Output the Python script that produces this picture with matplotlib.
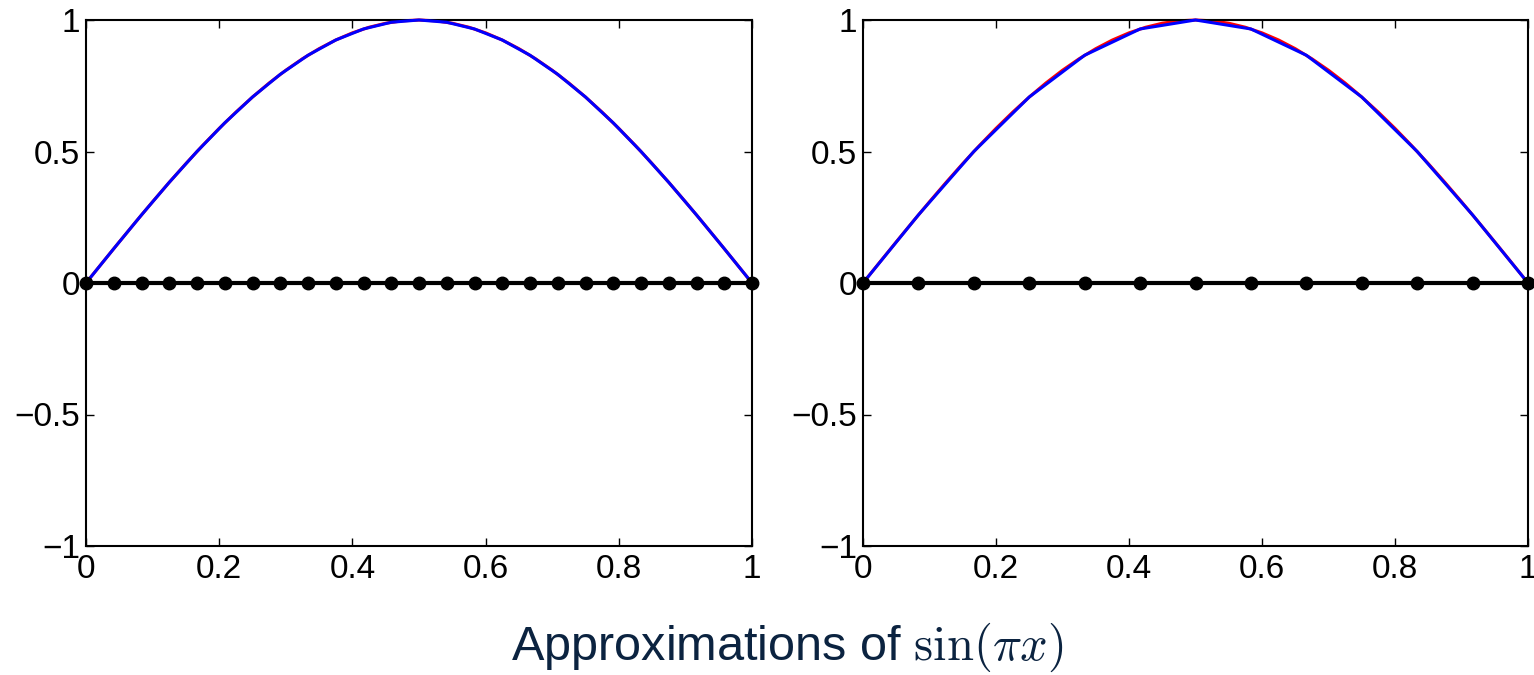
import matplotlib
matplotlib.use("Agg")
import matplotlib.pyplot as plt

plt.rcParams['font.family'] = ['Liberation Sans', 'DejaVu Sans']
plt.rcParams['mathtext.fontset'] = 'cm'

# Left panel: 25 nodes on [0, 1]
x_left = [0, 1/24, 2/24, 3/24, 4/24, 5/24, 6/24, 7/24, 8/24, 9/24, 10/24, 11/24, 12/24,
          13/24, 14/24, 15/24, 16/24, 17/24, 18/24, 19/24, 20/24, 21/24, 22/24, 23/24, 1]
y_left_approx = [0.0, 0.1305, 0.2588, 0.3827, 0.5, 0.6088, 0.7071, 0.7934, 0.866, 0.9239,
                 0.9659, 0.9914, 1.0, 0.9914, 0.9659, 0.9239, 0.866, 0.7934, 0.7071,
                 0.6088, 0.5, 0.3827, 0.2588, 0.1305, 0.0]
y_left_nodes = [0.0] * 25

# Right panel: 13 nodes on [0, 1]
x_right = [0, 1/12, 2/12, 3/12, 4/12, 5/12, 6/12, 7/12, 8/12, 9/12, 10/12, 11/12, 1]
y_right_approx = [0.0, 0.2588, 0.5, 0.7071, 0.866, 0.9659, 1.0, 0.9659, 0.866, 0.7071,
                  0.5, 0.2588, 0.0]
y_right_nodes = [0.0] * 13

# Exact curve sin(pi x), sampled finely
x_exact = [0, 0.025, 0.05, 0.075, 0.1, 0.125, 0.15, 0.175, 0.2, 0.225, 0.25, 0.275, 0.3,
           0.325, 0.35, 0.375, 0.4, 0.425, 0.45, 0.475, 0.5, 0.525, 0.55, 0.575, 0.6,
           0.625, 0.65, 0.675, 0.7, 0.725, 0.75, 0.775, 0.8, 0.825, 0.85, 0.875, 0.9,
           0.925, 0.95, 0.975, 1.0]
y_exact = [0.0, 0.0785, 0.1564, 0.2334, 0.309, 0.3827, 0.454, 0.5225, 0.5878, 0.6494,
           0.7071, 0.7604, 0.809, 0.8526, 0.891, 0.9239, 0.9511, 0.9724, 0.9877, 0.9969,
           1.0, 0.9969, 0.9877, 0.9724, 0.9511, 0.9239, 0.891, 0.8526, 0.809, 0.7604,
           0.7071, 0.6494, 0.5878, 0.5225, 0.454, 0.3827, 0.309, 0.2334, 0.1564, 0.0785, 0.0]

x_ticks = [0, 0.2, 0.4, 0.6, 0.8, 1]
x_ticklabels = ['0', '0.2', '0.4', '0.6', '0.8', '1']
y_ticks = [-1, -0.5, 0, 0.5, 1]
y_ticklabels = ['\u22121', '\u22120.5', '0', '0.5', '1']

W, H = 1534, 675
fig = plt.figure(figsize=(W / 100, H / 100), dpi=100)

panels = [
    (86, 752, x_left, y_left_approx, y_left_nodes),
    (863, 1528, x_right, y_right_approx, y_right_nodes),
]
top_px, bot_px = 20, 546

for (x0, x1, xn, ya, yn) in panels:
    ax = fig.add_axes([x0 / W, 1 - bot_px / H, (x1 - x0) / W, (bot_px - top_px) / H])
    ax.plot(x_exact, y_exact, color='#ff0000', lw=2.2, zorder=2, clip_on=False)
    ax.plot(xn, ya, color='#0000ff', lw=2.2, zorder=3, clip_on=False)
    ax.plot(xn, yn, color='black', lw=3, marker='o', markersize=9, zorder=4, clip_on=False)
    ax.set_xlim(0, 1)
    ax.set_ylim(-1, 1)
    ax.set_xticks(x_ticks)
    ax.set_xticklabels(x_ticklabels)
    ax.set_yticks(y_ticks)
    ax.set_yticklabels(y_ticklabels)
    ax.tick_params(direction='in', length=6, width=1, top=True, right=True,
                   labelsize=24, colors='black')
    ax.tick_params(axis='y', pad=4)
    ax.tick_params(axis='x', pad=6)
    for s in ax.spines.values():
        s.set_linewidth(1.5)

fig.text(787 / W, 1 - 660 / H, r'Approximations of $\sin(\pi x)$', ha='center', va='baseline',
         fontsize=35, color='#0b2340')

fig.savefig('out.png', dpi=100)
